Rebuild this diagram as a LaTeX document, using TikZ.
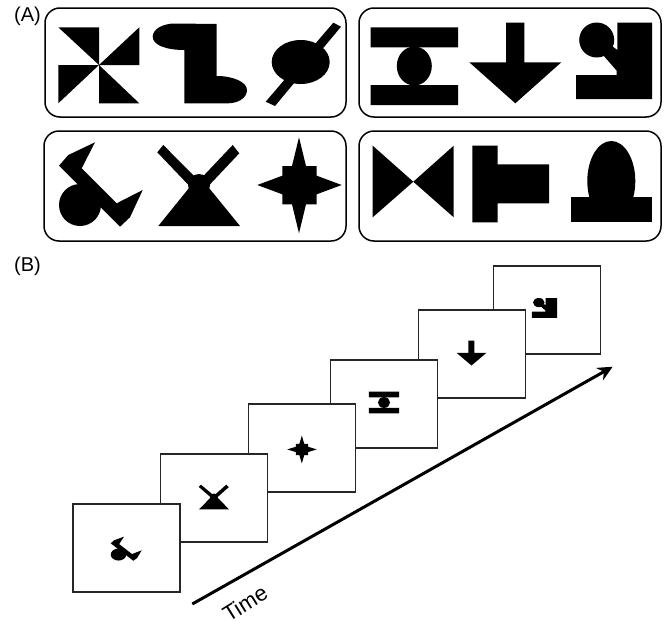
\documentclass[tikz,border=0pt]{standalone}
\usepackage{fontspec}
\setmainfont{Liberation Sans}
\usetikzlibrary{arrows.meta}
\tikzset{
  panel/.style={draw=black,line width=1.5pt,rounded corners=15pt,fill=white},
  slide/.style={draw=black!85,line width=1.2pt,fill=white,minimum width=107pt,minimum height=88pt,inner sep=0pt,anchor=north west,outer sep=0pt},
  glyph/.style={fill=black,draw=none},
  tag/.style={font=\fontsize{20}{22}\selectfont,inner sep=0pt,anchor=west},
  timearrow/.style={line width=3pt,-{Stealth[length=15pt,width=14pt]}}
}
% shapes in reference pixel coordinates
\newcommand{\shPin}{
 \fill[glyph] (58.3,27.3)--(99,27.3)--(99,65)--cycle (139.3,27.3)--(139.3,65)--(99,65)--cycle
  (58.3,65)--(99,65)--(58.3,103.3)--cycle (99,65)--(139.3,103.3)--(99,103.3)--cycle;}
\newcommand{\shBoot}{
 \fill[glyph] (152.7,36.7) .. controls (152.7,29) and (163,23.5) .. (175,23.5) -- (216.7,24) -- (216.7,76)
  .. controls (233,76) and (247,82) .. (247,90) .. controls (247,98) and (238,103.3) .. (228,103.3)
  -- (184.3,103.3) -- (184.3,50) .. controls (166,50) and (152.7,45) .. (152.7,36.7) -- cycle;}
\newcommand{\shOval}{
 \fill[glyph] (300.7,62) ellipse [x radius=29,y radius=22];
 \fill[glyph] (333.3,22.7)--(341,26.7)--(275,106)--(265.7,101.7)--cycle;}
\newcommand{\shBars}{
 \fill[glyph] (370.7,27.3) rectangle (458,47.3) (370.7,85) rectangle (458,105);
 \fill[glyph] (414.3,66) ellipse [x radius=17.5,y radius=19.5];}
\newcommand{\shArrow}{
 \fill[glyph] (506,22.7)--(524.3,22.7)--(524.3,62.3)--(561.3,62.3)--(515.3,103.3)--(469.3,62.3)--(506,62.3)--cycle;}
\newcommand{\shKey}{
 \fill[glyph] (596.7,40) circle [radius=17.5];
 \fill[glyph] (617.3,22.7)--(652,22.7)--(652,99)--(576,99)--(576,75)--(616.7,75)--(616.7,70.7)--(603,55)--(612,46)--(617.3,50)--cycle;}
\newcommand{\shBird}{
 \fill[glyph] (80,205) circle [radius=21];
 \fill[glyph] (95,142.3)--(68.3,155)--(59,165.7)--(120,226.7)--(130,217.3)--(142.7,190)--(116.7,203.3)--(81.7,168.3)--cycle;}
\newcommand{\shCross}{
 \fill[glyph] (158.3,226)--(240,226)--(199,175.7)--cycle;
 \fill[glyph] (199,185) circle [radius=11];
 \fill[glyph] (163.3,145)--(157.3,152.3)--(199,196)--(206,188)--cycle;
 \fill[glyph] (232.7,145)--(239.3,153.3)--(199,196)--(192,188)--cycle;}
\newcommand{\shStar}{
 \fill[glyph] (299,137.3)--(306,166)--(316.7,166)--(316.7,175.7)--(341.7,185)--(316.7,194.3)--(316.7,204.3)--(306,204.3)
  --(299,233.3)--(292,204.3)--(282.3,204.3)--(282.3,194.3)--(257.3,185)--(282.3,175.7)--(282.3,166)--(292,166)--cycle;}
\newcommand{\shBow}{
 \fill[glyph] (372.7,145.7)--(413.3,181.7)--(453.7,145.7)--(453.7,217.3)--(413.3,181.7)--(372.7,217.3)--cycle;}
\newcommand{\shTee}{
 \fill[glyph] (472.3,145.7)--(497.7,145.7)--(497.7,164.3)--(549,164.3)--(549,203.3)--(497.7,203.3)--(497.7,222.3)--(472.3,222.3)--cycle;}
\newcommand{\shBell}{
 \fill[glyph] (571,197.3) rectangle (652,222.3);
 \fill[glyph] (611.3,181) ellipse [x radius=24,y radius=40];}
% #1 shape, #2,#3 source centre, #4,#5 target centre, #6,#7 scales
\newcommand{\mini}[7]{\begin{scope}[shift={(#4,#5)},xscale=#6,yscale=#7,shift={(-#2,-#3)}]#1\end{scope}}
\begin{document}
\begin{tikzpicture}[x=1pt,y=-1pt]
\useasboundingbox (0,0) rectangle (664,624);
\fill[white] (0,0) rectangle (664,624);
\node[tag] (labA) at (14,16) {(A)};
\node[tag] (labB) at (14,266) {(B)};
\draw[panel] (45,8) rectangle (346,117);
\draw[panel] (359,8) rectangle (661,117);
\draw[panel] (44,131) rectangle (346,241);
\draw[panel] (359,131) rectangle (661,241);
\shPin \shBoot \shOval \shBars \shArrow \shKey \shBird \shCross \shStar \shBow \shTee \shBell
\node[slide] (f6) at (493.5,266) {};
\mini{\shKey}{614}{61}{544.5}{308}{0.33}{0.26}
\node[slide] (f5) at (418.5,310) {};
\mini{\shArrow}{515.3}{63}{471.5}{353}{0.326}{0.31}
\node[slide] (f4) at (330.5,360) {};
\mini{\shBars}{414.3}{66}{384}{402.5}{0.347}{0.279}
\node[slide] (f3) at (248.5,404) {};
\mini{\shStar}{299.5}{185.3}{302}{449.5}{0.35}{0.29}
\node[slide] (f2) at (160.5,454) {};
\mini{\shCross}{199}{185.5}{214}{497}{0.366}{0.305}
\node[slide] (f1) at (73,504) {};
\mini{\shBird}{100.8}{184.5}{126.2}{548.7}{0.37}{0.286}
\coordinate (ts) at (192.3,604);
\coordinate (te) at (612.7,366.7);
\draw[timearrow] (ts) -- (te);
\node[font=\fontsize{22}{24}\selectfont,rotate=32,inner sep=0pt] (timelabel) at (245,603.5) {Time};
\end{tikzpicture}
\end{document}
